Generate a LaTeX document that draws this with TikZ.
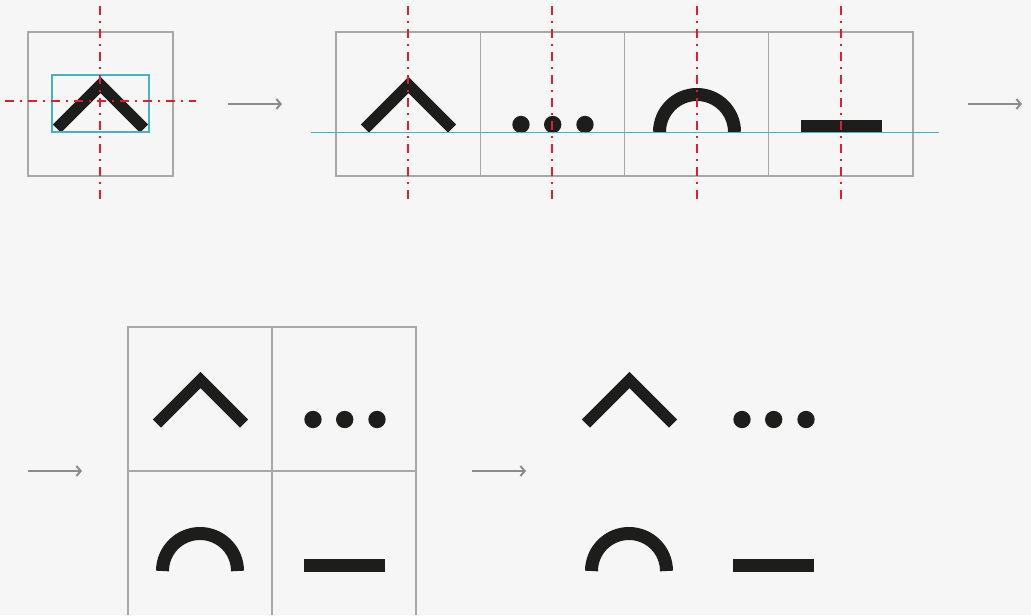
\documentclass[tikz,border=0pt]{standalone}
\usetikzlibrary{arrows.meta}
\definecolor{bgc}{HTML}{F6F6F6}
\definecolor{gridc}{HTML}{A8A8A8}
\definecolor{cyanc}{RGB}{66,180,194}
\definecolor{redc}{RGB}{228,28,48}
\definecolor{ink}{RGB}{29,29,27}
\definecolor{arrc}{HTML}{8C8C8C}
\tikzset{
  cell/.style={draw=gridc,line width=0.8pt},
  guide/.style={draw=cyanc,line width=0.8pt},
  axis/.style={draw=redc,line width=0.9pt,dash pattern=on 6.75pt off 4.5pt on 1.5pt off 4.5pt},
  chev/.style={draw=ink,line width=8.6pt,line cap=butt,line join=miter},
  arcstroke/.style={draw=ink,line width=9.75pt,line cap=butt},
  blob/.style={fill=ink,draw=none},
  flow/.style={draw=arrc,line width=1.5pt,-{Straight Barb[length=3.2pt,width=7.5pt,line width=1.5pt]}},
}
\newcommand{\chevshape}{\draw[chev] (29,96.5) -- (72.5,53) -- (116,96.5);}
\newcommand{\dotsshape}{\fill[blob] (41,92.5) circle[radius=6.5pt] (72.7,92.5) circle[radius=6.5pt] (105,92.5) circle[radius=6.5pt];}
\newcommand{\arcshape}{\draw[arcstroke] (34.5,100) arc[start angle=180,end angle=0,radius=28.125pt];}
\newcommand{\barshape}{\fill[blob] (32,88) rectangle (113,101);}
\begin{document}
\begin{tikzpicture}[x=0.75pt,y=-0.75pt]
\useasboundingbox[fill=bgc] (0,0) rectangle (1031,615);
% ---- top-left box
\draw[cell] (28,32) rectangle (173,176);
\begin{scope}[shift={(28,32)}]\chevshape\end{scope}
\draw[guide] (52,75) rectangle (149,132);
\draw[axis] (5,101) -- (196,101);
\draw[axis] (100,6) -- (100,205);
% ---- arrows
\coordinate (a1s) at (228,104); \coordinate (a1e) at (282,104);
\coordinate (a2s) at (968,104); \coordinate (a2e) at (1022,104);
\coordinate (a3s) at (28,471);  \coordinate (a3e) at (82,471);
\coordinate (a4s) at (472,471); \coordinate (a4e) at (526,471);
\draw[flow] (a1s) -- (a1e);
\draw[flow] (a2s) -- (a2e);
\draw[flow] (a3s) -- (a3e);
\draw[flow] (a4s) -- (a4e);
% ---- top row
\draw[cell] (336,32) rectangle (913,176);
\draw[cell] (480.25,32) -- (480.25,176);
\draw[cell] (624.5,32) -- (624.5,176);
\draw[cell] (768.75,32) -- (768.75,176);
\begin{scope}[shift={(336,32)}]\chevshape\end{scope}
\begin{scope}[shift={(480,32)}]\dotsshape\end{scope}
\begin{scope}[shift={(625,32)}]\arcshape\end{scope}
\begin{scope}[shift={(769,32)}]\barshape\end{scope}
\draw[guide] (311,132.5) -- (939,132.5);
\draw[axis] (408,6) -- (408,205);
\draw[axis] (552,6) -- (552,205);
\draw[axis] (697,6) -- (697,202);
\draw[axis] (841,6) -- (841,202);
% ---- bottom grid
\draw[cell] (128,615) -- (128,327) -- (416,327) -- (416,615);
\draw[cell] (272,327) -- (272,615);
\draw[cell] (128,471) -- (416,471);
\begin{scope}[shift={(128,327)}]\chevshape\end{scope}
\begin{scope}[shift={(272,327)}]\dotsshape\end{scope}
\begin{scope}[shift={(128,471)}]\arcshape\end{scope}
\begin{scope}[shift={(272,471)}]\barshape\end{scope}
% ---- bottom right result
\begin{scope}[shift={(557,327)}]\chevshape\end{scope}
\begin{scope}[shift={(701,327)}]\dotsshape\end{scope}
\begin{scope}[shift={(557,471)}]\arcshape\end{scope}
\begin{scope}[shift={(701,471)}]\barshape\end{scope}
\end{tikzpicture}
\end{document}
